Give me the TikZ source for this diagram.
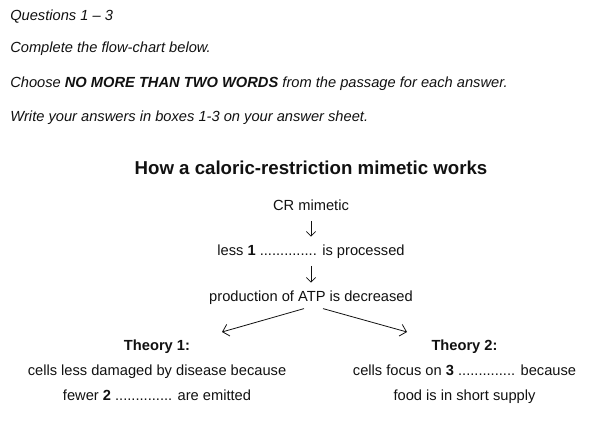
\documentclass[tikz,border=0pt]{standalone}
\usepackage{fontspec}
\setmainfont{Liberation Sans}
\usetikzlibrary{arrows.meta,positioning,calc}
\definecolor{qtext}{HTML}{111111}

\begin{document}
\begin{tikzpicture}[
  x=0.75pt, y=-0.75pt,
  line/.style={font=\fontsize{11}{13}\selectfont, text=qtext, inner sep=0pt, anchor=base},
  instr/.style={line, anchor=base west, font=\fontsize{11}{13}\selectfont\itshape},
  flow/.style={line, text height=8pt, text depth=2.5pt},
  head/.style={line, font=\fontsize{14}{16}\selectfont\bfseries},
  theory/.style={flow, font=\fontsize{11}{13}\selectfont\bfseries},
  arr/.style={-{Straight Barb[length=3.5pt,width=7pt]}, qtext, line width=0.6pt},
  down/.style={arr, shorten <=5.5pt, shorten >=5.5pt},
  split/.style={arr, -{Straight Barb[length=4.5pt,width=9pt]}},
]
  \useasboundingbox (0,0) rectangle (598,421);

  %% ---- Instructions ----
  \node[instr] (q)     at (10,20)  {Questions 1 -- 3};
  \node[instr] (cpl)   at (10,52)  {Complete the flow-chart below.};
  \node[instr] (chs)   at (10,87)  {Choose \textbf{NO MORE THAN TWO WORDS} from the passage for each answer.};
  \node[instr] (wrt)   at (10,121) {Write your answers in boxes 1-3 on your answer sheet.};

  %% ---- Title ----
  \node[head] (title) at (311,174) {How a caloric-restriction mimetic works};

  %% ---- Flow ----
  \node[flow] (cr)   at (311,210) {CR mimetic};
  \node[flow] (less) at (311,255) {less \textbf{1} .............. is processed};
  \node[flow] (prod) at (311,301) {production of ATP is decreased};

  \draw[down] (cr) -- (less);
  \draw[down] (less) -- (prod);

  %% ---- Theories ----
  \node[theory] (th1) at (157,350) {Theory 1:};
  \node[flow, below=18.75pt of th1.base, anchor=base] (t1a) {cells less damaged by disease because};
  \node[flow, below=18.75pt of t1a.base, anchor=base] (t1b) {fewer \textbf{2} .............. are emitted};

  \node[theory] (th2) at (464.5,350) {Theory 2:};
  \node[flow, below=18.75pt of th2.base, anchor=base] (t2a) {cells focus on \textbf{3} .............. because};
  \node[flow, below=18.75pt of t2a.base, anchor=base] (t2b) {food is in short supply};

  \coordinate (lend) at (222,332);
  \coordinate (rend) at (407,332);
  \draw[split] ([shift={(-7,4)}]prod.south) -- (lend);
  \draw[split] ([shift={(12,4)}]prod.south) -- (rend);

\end{tikzpicture}
\end{document}
